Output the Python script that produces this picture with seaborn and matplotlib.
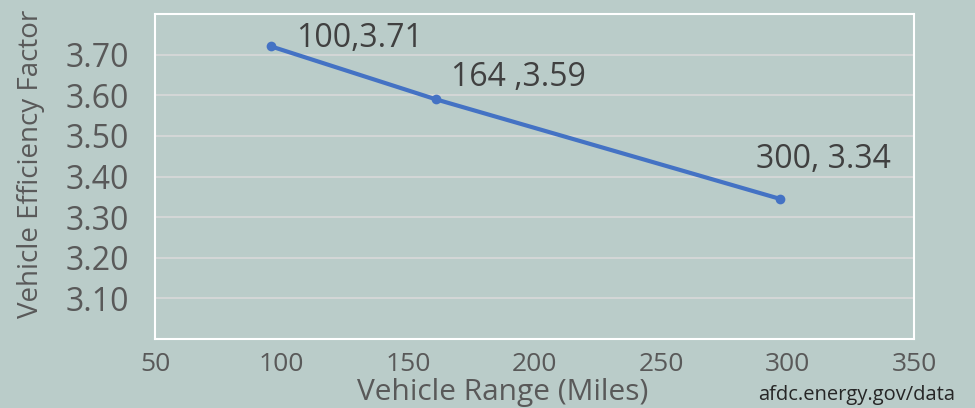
import matplotlib
matplotlib.use('Agg')
import matplotlib.pyplot as plt
import seaborn as sns
from pandas import DataFrame

vehicle_range = [96, 161, 297]
efficiency_factor = [3.72, 3.59, 3.345]
point_labels = ['100,3.71', '164 ,3.59', '300, 3.34']
label_offsets = [(18, 6), (11, 16), (-17, 28)]

x_ticks = [50, 100, 150, 200, 250, 300, 350]
y_ticks = [3.10, 3.20, 3.30, 3.40, 3.50, 3.60, 3.70]

BG = '#BACCC9'
LINE = '#4472C4'
GREY = '#595959'

sns.set_style('white')
plt.rcParams['font.family'] = ['Open Sans', 'DejaVu Sans']

data = DataFrame({'range': vehicle_range, 'factor': efficiency_factor})

fig = plt.figure(figsize=(9.75, 4.08), dpi=100, facecolor=BG)
ax = fig.add_axes([0.159, 0.169, 0.7785, 0.7967])
ax.set_facecolor(BG)

sns.lineplot(data=data, x='range', y='factor', ax=ax, color=LINE, linewidth=3,
             marker='o', markersize=7, markeredgewidth=0, zorder=3)

for x, y, text, off in zip(vehicle_range, efficiency_factor, point_labels, label_offsets):
    ax.annotate(text, (x, y), xytext=off, textcoords='offset points',
                ha='left', va='center', fontsize=23, color='#404040')

ax.set_xlim(50, 350)
ax.set_ylim(3.0, 3.8)
ax.set_xticks(x_ticks)
ax.set_yticks(y_ticks)
ax.set_yticklabels([f'{v:.2f}' for v in y_ticks])
ax.tick_params(axis='y', labelsize=23, colors=GREY, length=0, pad=19)
ax.tick_params(axis='x', labelsize=19, colors=GREY, length=0, pad=9)

ax.grid(axis='y', color='#D9D9D9', linewidth=1.2)
ax.grid(axis='x', visible=False)
for side in ax.spines.values():
    side.set_color('white')
    side.set_linewidth(1.5)

ax.set_xlabel('Vehicle Range (Miles)', fontsize=21.5, color=GREY, va='baseline')
ax.set_ylabel('Vehicle Efficiency Factor', fontsize=20, color=GREY)
ax.xaxis.set_label_coords(0.458, -0.188)
ax.yaxis.set_label_coords(-0.145, 0.54)

fig.text(0.98, 0.032, 'afdc.energy.gov/data', ha='right', va='center',
         fontsize=14.5, color='#262626')

fig.savefig('out.png', dpi=100, facecolor=BG)
